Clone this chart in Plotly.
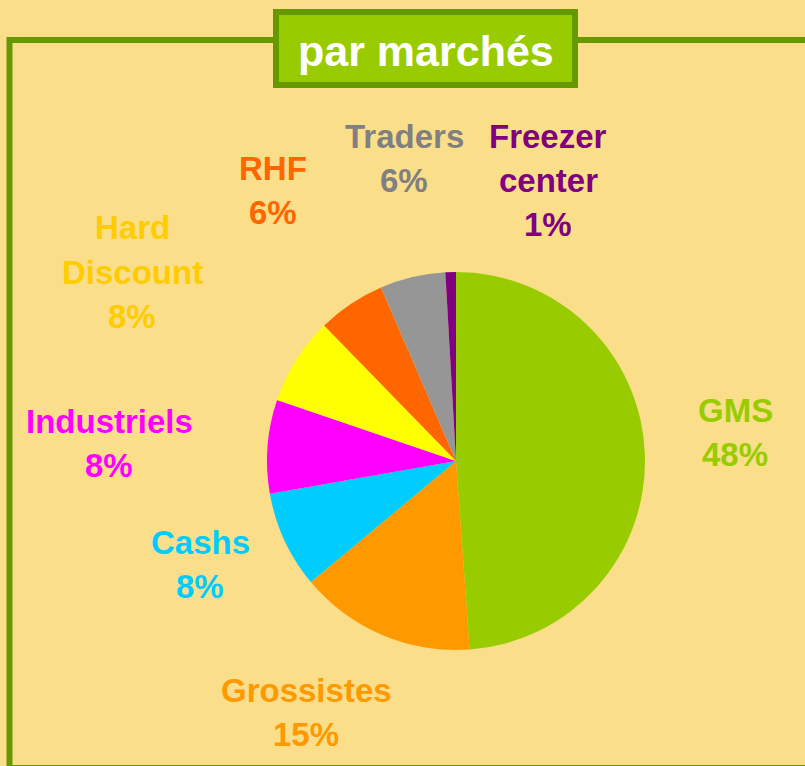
import plotly.graph_objects as go

# ---- data ----
markets = ["GMS", "Grossistes", "Cashs", "Industriels", "Hard Discount", "RHF", "Traders", "Freezer center"]
shares = [48.9, 15.1, 8.3, 8.0, 7.5, 5.8, 5.6, 0.9]
pct_labels = ["48%", "15%", "8%", "8%", "8%", "6%", "6%", "1%"]
slice_colors = ["#99CC00", "#FF9900", "#00CCFF", "#FF00FF", "#FFFF00", "#FF6600", "#969696", "#800080"]
label_colors = ["#99CC00", "#FF9900", "#00CCFF", "#FF00FF", "#FFCC00", "#FF6600", "#808080", "#800080"]
label_lines = [["GMS"], ["Grossistes"], ["Cashs"], ["Industriels"], ["Hard", "Discount"], ["RHF"], ["Traders"], ["Freezer", "center"]]
title_text = "par marchés"

# ---- layout (pixels) ----
W, H = 805, 766
BG = "#FADE8A"
FRAME = "#669900"
label_pos = {  # centre x, centre y of first line
    "GMS": (735, 410), "Grossistes": (306, 690), "Cashs": (200, 542),
    "Industriels": (109, 421), "Hard Discount": (132, 228), "RHF": (273, 168),
    "Traders": (404, 136), "Freezer center": (548, 136),
}
LINE_GAP = 44
FONT = "Liberation Sans, Arial, sans-serif"

def px(x):
    return x / W

def py(y):
    return 1 - y / H

cx, cy, r = 456, 461, 189

fig = go.Figure(go.Pie(
    labels=markets, values=shares, sort=False, direction="clockwise", rotation=0,
    marker=dict(colors=slice_colors, line=dict(width=0)),
    textinfo="none", hoverinfo="label+percent", showlegend=False,
    domain=dict(x=[px(cx - r), px(cx + r)], y=[py(cy + r), py(cy - r)]),
))

annotations = []
for name, pct, col, lines in zip(markets, pct_labels, label_colors, label_lines):
    x0, y0 = label_pos[name]
    for i, t in enumerate(lines + [pct]):
        annotations.append(dict(
            x=px(x0), y=py(y0 + i * LINE_GAP), xref="paper", yref="paper",
            text=f"<b>{t}</b>", showarrow=False, xanchor="center", yanchor="middle",
            font=dict(family=FONT, size=33, color=col),
        ))

annotations.append(dict(
    x=px(426), y=py(51), xref="paper", yref="paper", text=f"<b>{title_text}</b>",
    showarrow=False, xanchor="center", yanchor="middle",
    font=dict(family=FONT, size=43, color="white"),
))

shapes = [
    dict(type="rect", xref="paper", yref="paper",
         x0=px(9.5), x1=px(900), y0=py(40), y1=py(768),
         line=dict(color=FRAME, width=6), fillcolor="rgba(0,0,0,0)", layer="below"),
    dict(type="rect", xref="paper", yref="paper",
         x0=px(276), x1=px(575), y0=py(12), y1=py(85),
         line=dict(color=FRAME, width=6), fillcolor="#99CC00", layer="below"),
]

fig.update_layout(
    width=W, height=H, margin=dict(l=0, r=0, t=0, b=0),
    paper_bgcolor=BG, plot_bgcolor=BG,
    annotations=annotations, shapes=shapes,
)

fig.write_html(
    "out.html",
    config={"displayModeBar": False},
    post_script="document.body.style.margin='0';document.body.style.background='" + BG + "';",
)
